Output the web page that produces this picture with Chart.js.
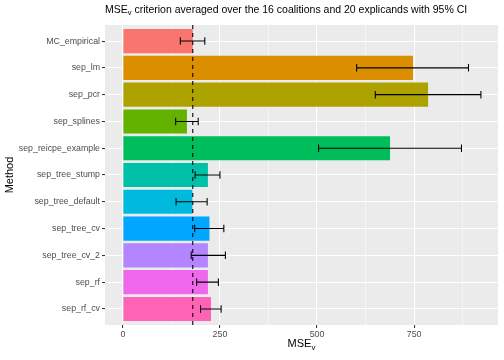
<!DOCTYPE html>
<html>
<head>
<meta charset="utf-8">
<script src="https://cdn.jsdelivr.net/npm/chart.js@4"></script>
<style>
	html, body { margin: 0; padding: 0; background: #ffffff; }
	#wrap { width: 504px; height: 360px; }
</style>
</head>
<body>
<div id="wrap"><canvas id="mseChart" width="504" height="360"></canvas></div>
<script>
const methods = [
	"MC_empirical", "sep_lm", "sep_pcr", "sep_splines", "sep_reicpe_example",
	"sep_tree_stump", "sep_tree_default", "sep_tree_cv", "sep_tree_cv_2",
	"sep_rf", "sep_rf_cv",
];
const mseValues = [180, 747, 786, 165, 688, 219, 179, 223, 219, 219, 227];
const ciLower = [148, 602, 650, 136, 504, 186, 137, 185, 176, 190, 200];
const ciUpper = [211, 890, 922, 194, 872, 250, 217, 260, 264, 246, 253];
const barColors = [
	"#F8766D", "#DB8E00", "#AEA200", "#64B200", "#00BD5C", "#00C1A7",
	"#00BADE", "#00A6FF", "#B385FF", "#EF67EB", "#FF63B6",
];
const xTickLabels = [0, 250, 500, 750];
const xGridValues = [0, 125, 250, 375, 500, 625, 750, 875]; // major + minor
const refValue = mseValues[0]; // dashed line = MC_empirical

const FONT = "'Liberation Sans', Arial, sans-serif";

// grey panel behind the bars (ggplot look)
const panelBg = {
	id: "panelBg",
	beforeDraw(chart) {
		const { ctx, chartArea: a } = chart;
		ctx.save();
		ctx.fillStyle = "#ffffff";
		ctx.fillRect(0, 0, chart.width, chart.height);
		ctx.fillStyle = "#EBEBEB";
		ctx.fillRect(a.left, a.top, a.right - a.left, a.bottom - a.top);
		ctx.restore();
	},
};

// dashed reference line + error bars
const errorBars = {
	id: "errorBars",
	afterDatasetsDraw(chart) {
		const { ctx, chartArea: a } = chart;
		const x = chart.scales.x;
		const y = chart.scales.y;
		ctx.save();
		ctx.strokeStyle = "#000000";
		ctx.lineWidth = 1.07;
		ctx.setLineDash([4, 4]);
		const rx = x.getPixelForValue(refValue);
		ctx.beginPath();
		ctx.moveTo(rx, a.top);
		ctx.lineTo(rx, a.bottom);
		ctx.stroke();
		ctx.setLineDash([]);
		methods.forEach((m, i) => {
			const x0 = x.getPixelForValue(ciLower[i]);
			const x1 = x.getPixelForValue(ciUpper[i]);
			const yc = y.getPixelForValue(i);
			const y0 = y.getPixelForValue(i - 0.14);
			const y1 = y.getPixelForValue(i + 0.14);
			ctx.beginPath();
			ctx.moveTo(x0, yc);
			ctx.lineTo(x1, yc);
			ctx.moveTo(x0, y0);
			ctx.lineTo(x0, y1);
			ctx.moveTo(x1, y0);
			ctx.lineTo(x1, y1);
			ctx.stroke();
		});
		ctx.restore();
	},
};

// "MSE" + subscript v + rest of the text
function drawMseSub(ctx, text, rest, x, y, size, align) {
	ctx.font = size + "px " + FONT;
	const w1 = ctx.measureText(text).width;
	const subSize = size * 0.72;
	ctx.font = subSize + "px " + FONT;
	const w2 = ctx.measureText("v").width;
	ctx.font = size + "px " + FONT;
	const w3 = ctx.measureText(rest).width;
	let left = x;
	if (align === "center") left = x - (w1 + w2 + w3) / 2;
	ctx.textAlign = "left";
	ctx.textBaseline = "alphabetic";
	ctx.fillText(text, left, y);
	ctx.font = subSize + "px " + FONT;
	ctx.fillText("v", left + w1, y + size * 0.25);
	ctx.font = size + "px " + FONT;
	ctx.fillText(rest, left + w1 + w2, y);
}

const titles = {
	id: "titles",
	afterDraw(chart) {
		const { ctx, chartArea: a } = chart;
		ctx.save();
		ctx.fillStyle = "#000000";
		drawMseSub(ctx, "MSE", " criterion averaged over the 16 coalitions and 20 explicands with 95% CI",
			a.left, 12.5, 10.5, "left");
		drawMseSub(ctx, "MSE", "", (a.left + a.right) / 2, 347, 11, "center");
		ctx.restore();
	},
};

const isMajor = (c) => c.tick && xTickLabels.includes(c.tick.value);

const ctx = document.getElementById("mseChart").getContext("2d");
new Chart(ctx, {
	type: "bar",
	data: {
		datasets: [
			{
				label: "MSEv",
				data: mseValues.map((v, i) => ({ x: v, y: i })),
				backgroundColor: barColors,
				borderWidth: 0,
				barPercentage: 0.9,
				categoryPercentage: 1,
			},
		],
	},
	options: {
		indexAxis: "y",
		responsive: false,
		animation: false,
		devicePixelRatio: 1,
		layout: { padding: { top: 25, right: 6, left: 0, bottom: 0 } },
		plugins: {
			legend: { display: false },
			tooltip: { enabled: false },
			title: { display: false },
		},
		scales: {
			x: {
				type: "linear",
				position: "bottom",
				min: -46,
				max: 966,
				offset: false,
				border: { display: false },
				grid: {
					offset: false,
					color: "#ffffff",
					lineWidth: (c) => (isMajor(c) ? 1.07 : 0.53),
					tickColor: (c) => (isMajor(c) ? "#333333" : "rgba(0,0,0,0)"),
					tickLength: 3,
					tickWidth: 1.07,
				},
				ticks: {
					autoSkip: false,
					maxRotation: 0,
					padding: 1,
					color: "#4D4D4D",
					font: { family: FONT, size: 8.8 },
					callback: (v) => (xTickLabels.includes(v) ? String(v) : ""),
				},
				afterBuildTicks: (axis) => {
					axis.ticks = xGridValues.map((v) => ({ value: v }));
				},
				afterFit: (scale) => {
					scale.height = 35;
				},
			},
			y: {
				type: "linear",
				reverse: true,
				min: -0.6,
				max: 10.6,
				offset: false,
				border: { display: false },
				grid: {
					offset: false,
					color: "#ffffff",
					lineWidth: 1.07,
					tickColor: "#333333",
					tickLength: 3,
					tickWidth: 1.07,
				},
				ticks: {
					autoSkip: false,
					padding: 2,
					color: "#4D4D4D",
					font: { family: FONT, size: 8.8 },
					callback: (v) => methods[v] ?? "",
				},
				afterBuildTicks: (axis) => {
					axis.ticks = methods.map((m, i) => ({ value: i }));
				},
				title: {
					display: true,
					text: "Method",
					color: "#000000",
					font: { family: FONT, size: 11 },
					padding: { top: 3, bottom: 0 },
				},
				afterFit: (scale) => {
					scale.width = 105;
				},
			},
		},
	},
	plugins: [panelBg, errorBars, titles],
});
</script>
</body>
</html>
